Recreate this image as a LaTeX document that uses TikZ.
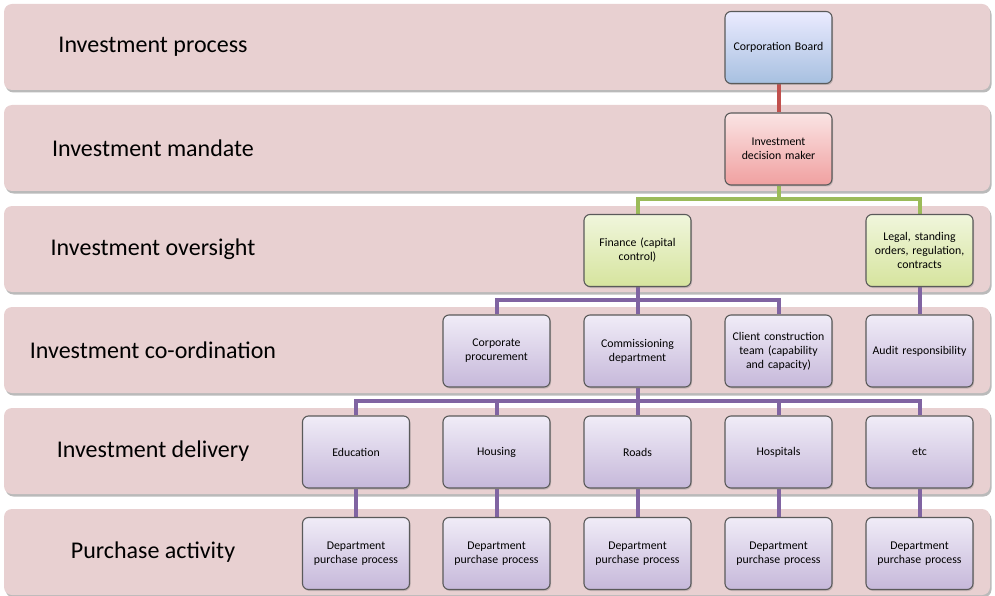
\documentclass[tikz,border=0pt]{standalone}
\usepackage{fontspec}
\setmainfont{Carlito}
\usetikzlibrary{shadows}
\definecolor{bandfill}{HTML}{E8D0D1}
\definecolor{boxline}{HTML}{5A5A5A}
\definecolor{redline}{HTML}{C0504D}
\definecolor{greenline}{HTML}{9BBB59}
\definecolor{purpleline}{HTML}{8064A2}
\pgfdeclarelayer{bands}
\pgfdeclarelayer{links}
\pgfsetlayers{bands,links,main}
\tikzset{
  band/.style={rectangle, rounded corners=8pt, fill=bandfill, minimum width=986pt, minimum height=86pt, inner sep=0pt,
    drop shadow={shadow xshift=1.5pt, shadow yshift=-2.5pt, opacity=0.45, fill=black!60}},
  bandlabel/.style={font=\fontsize{24}{28}\selectfont, text=black, inner sep=0pt},
  box/.style={rectangle, rounded corners=6pt, draw=boxline, line width=1.1pt, minimum width=107pt, minimum height=72pt,
    inner sep=2pt, align=center, text width=103pt, font=\fontsize{11.8}{14}\selectfont, text=black,
    drop shadow={shadow xshift=1pt, shadow yshift=-1.5pt, opacity=0.35}},
  bluebox/.style={box, top color=blue!8!white, bottom color={rgb,255:red,167;green,192;blue,224}},
  redbox/.style={box, top color={rgb,255:red,250;green,228;blue,228}, bottom color={rgb,255:red,240;green,160;blue,160}},
  greenbox/.style={box, top color={rgb,255:red,240;green,246;blue,220}, bottom color={rgb,255:red,214;green,228;blue,158}},
  purplebox/.style={box, top color={rgb,255:red,240;green,236;blue,247}, bottom color={rgb,255:red,198;green,184;blue,218}},
  link/.style={line width=4pt},
}
\begin{document}
\begin{tikzpicture}[x=1pt,y=-1pt]
\useasboundingbox (0,0) rectangle (995,596);
% bands
\begin{pgfonlayer}{bands}
\node[band] (b1) at (497,47) {};
\node[band] (b2) at (497,148) {};
\node[band] (b3) at (497,249) {};
\node[band] (b4) at (497,350) {};
\node[band] (b5) at (497,451) {};
\node[band] (b6) at (497,552) {};
\end{pgfonlayer}
\node[bandlabel] (l1) at (153,47) {Investment process};
\node[bandlabel] (l2) at (153,148) {Investment mandate};
\node[bandlabel] (l3) at (153,249) {Investment oversight};
\node[bandlabel] (l4) at (153,350) {Investment co-ordination};
\node[bandlabel] (l5) at (153,451) {Investment delivery};
\node[bandlabel] (l6) at (153,552) {Purchase activity};
% boxes
\node[bluebox] (cb) at (778.5,47.5) {Corporation Board};
\node[redbox] (idm) at (778.5,149) {Investment\\decision maker};
\node[greenbox] (fin) at (637.5,250.5) {Finance (capital\\control)};
\node[greenbox] (legal) at (919.5,250.5) {Legal, standing\\orders, regulation,\\contracts};
\node[purplebox] (cproc) at (496.5,351) {Corporate\\procurement};
\node[purplebox] (comm) at (637.5,351) {Commissioning\\department};
\node[purplebox] (client) at (778.5,351) {Client construction\\team (capability\\and capacity)};
\node[purplebox] (audit) at (919.5,351) {Audit responsibility};
\node[purplebox] (edu) at (356,452) {Education};
\node[purplebox] (hous) at (496.5,452) {Housing};
\node[purplebox] (roads) at (637.5,452) {Roads};
\node[purplebox] (hosp) at (778.5,452) {Hospitals};
\node[purplebox] (etc) at (919.5,452) {etc};
\node[purplebox] (pa) at (356,553.5) {Department\\purchase process};
\node[purplebox] (pb) at (496.5,553.5) {Department\\purchase process};
\node[purplebox] (pc) at (637.5,553.5) {Department\\purchase process};
\node[purplebox] (pd) at (778.5,553.5) {Department\\purchase process};
\node[purplebox] (pe) at (919.5,553.5) {Department\\purchase process};
% connectors
\coordinate (g) at (778.5,199);
\coordinate (p1) at (637.5,300);
\coordinate (p2) at (637.5,401);
\begin{pgfonlayer}{links}
\draw[link, redline] (cb) -- (idm);
\draw[link, greenline] (idm.south) -- (g);
\draw[link, greenline] (fin.north) |- (g) -| (legal.north);
\draw[link, purpleline] (fin) -- (comm);
\draw[link, purpleline] (cproc.north) |- (p1) -| (client.north);
\draw[link, purpleline] (legal) -- (audit);
\draw[link, purpleline] (comm) -- (roads);
\draw[link, purpleline] (edu.north) |- (p2) -| (etc.north);
\draw[link, purpleline] (hous.north) -- (hous.north |- p2);
\draw[link, purpleline] (hosp.north) -- (hosp.north |- p2);
\draw[link, purpleline] (edu) -- (pa);
\draw[link, purpleline] (hous) -- (pb);
\draw[link, purpleline] (roads) -- (pc);
\draw[link, purpleline] (hosp) -- (pd);
\draw[link, purpleline] (etc) -- (pe);
\end{pgfonlayer}
\end{tikzpicture}
\end{document}
